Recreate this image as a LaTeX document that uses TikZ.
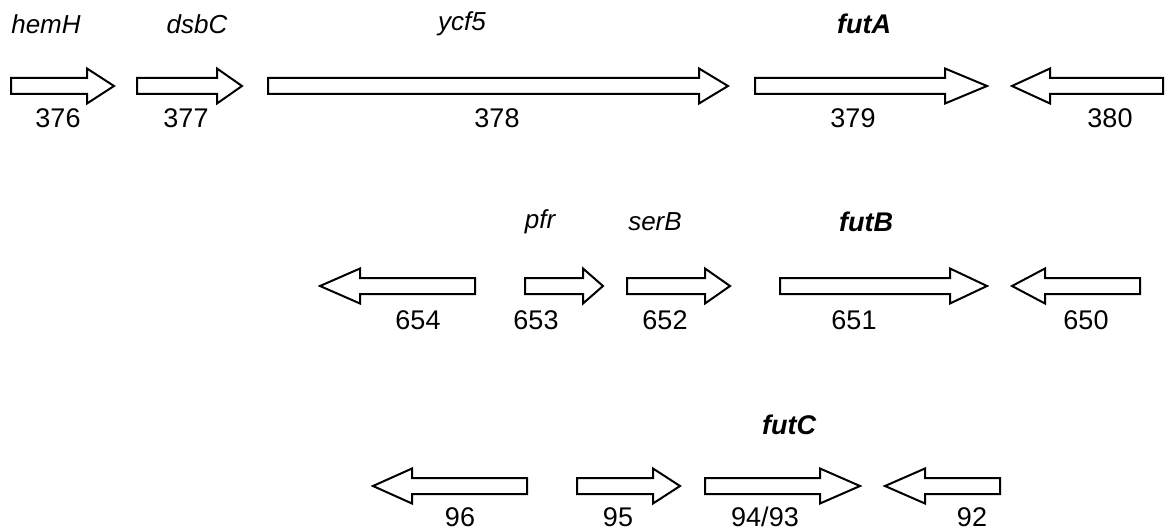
\documentclass[tikz,border=0pt]{standalone}
\usepackage{fontspec}
\setmainfont{Liberation Sans}
\tikzset{
  gene/.style={draw=black, line width=2pt, fill=white, line join=miter},
  num/.style={font=\fontsize{27}{30}\selectfont, inner sep=0pt, anchor=center},
  gname/.style={font=\fontsize{26}{30}\selectfont\itshape, inner sep=0pt, anchor=center},
  bname/.style={font=\fontsize{27}{30}\selectfont\bfseries\itshape, inner sep=0pt, anchor=center}
}
% right-pointing gene arrow: left end, head base, tip, centre y
\newcommand\geneR[4]{\draw[gene] (#1,#4-8) -- (#2,#4-8) -- (#2,#4-17.5) -- (#3,#4) -- (#2,#4+17.5) -- (#2,#4+8) -- (#1,#4+8) -- cycle;}
% left-pointing gene arrow: tip, head base, right end, centre y
\newcommand\geneL[4]{\draw[gene] (#3,#4-8) -- (#2,#4-8) -- (#2,#4-17.5) -- (#1,#4) -- (#2,#4+17.5) -- (#2,#4+8) -- (#3,#4+8) -- cycle;}
\begin{document}
\begin{tikzpicture}[x=1pt,y=-1pt]
\useasboundingbox (0,0) rectangle (1165,532);
% row 1
\geneR{11}{87}{114}{86}
\geneR{137}{217}{242}{86}
\geneR{268}{699}{728}{86}
\geneR{755}{945}{987}{86}
\geneL{1012}{1050}{1163}{86}
\node[gname] (hemH) at (46,24) {hemH};
\node[gname] (dsbC) at (197,24) {dsbC};
\node[gname] (ycf5) at (462,24) {ycf5};
\node[bname] (futA) at (864,24) {futA};
\node[num] (n376) at (58,118) {376};
\node[num] (n377) at (186,118) {377};
\node[num] (n378) at (497,118) {378};
\node[num] (n379) at (853,118) {379};
\node[num] (n380) at (1110,118) {380};
% row 2
\geneL{320}{360}{475}{286}
\geneR{525}{583}{603}{286}
\geneR{627}{705}{730}{286}
\geneR{780}{950}{987}{286}
\geneL{1012}{1045}{1140}{286}
\node[gname] (pfr) at (540,222) {pfr};
\node[gname] (serB) at (655,222) {serB};
\node[bname] (futB) at (866,222) {futB};
\node[num] (n654) at (418,320) {654};
\node[num] (n653) at (536,320) {653};
\node[num] (n652) at (665,320) {652};
\node[num] (n651) at (854,320) {651};
\node[num] (n650) at (1086,320) {650};
% row 3
\geneL{373}{412}{527}{486}
\geneR{577}{653}{680}{486}
\geneR{705}{820}{860}{486}
\geneL{885}{925}{1000}{486}
\node[bname] (futC) at (789,425) {futC};
\node[num] (n96) at (460,517) {96};
\node[num] (n95) at (618,517) {95};
\node[num] (n9493) at (765,517) {94/93};
\node[num] (n92) at (972,517) {92};
\end{tikzpicture}
\end{document}
